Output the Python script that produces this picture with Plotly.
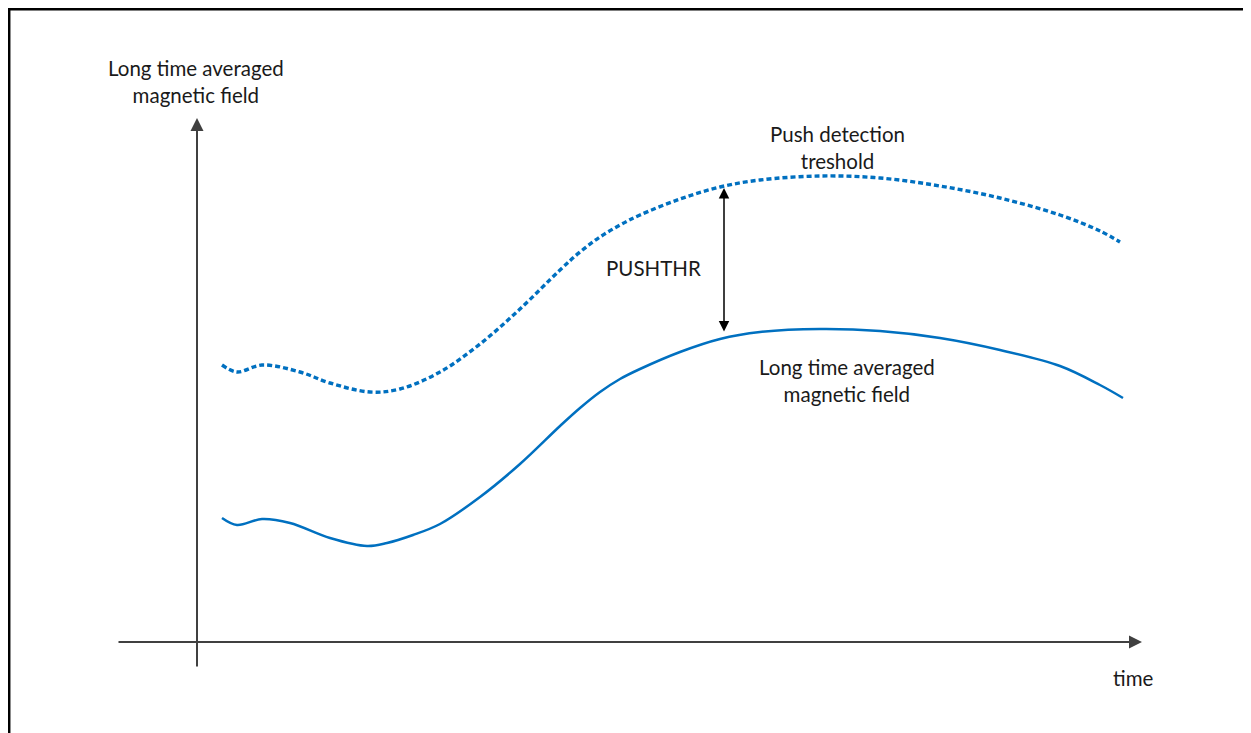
import plotly.graph_objects as go

# Schematic data (time units, field units)
time_field = [25, 40, 65, 93, 133, 170, 190, 216, 243, 283, 323, 363, 383, 403, 423,
              443, 483, 523, 563, 623, 683, 743, 803, 863, 903, 926]
field_avg = [124, 117, 123, 119, 104, 96, 99, 107, 118, 145, 178, 216, 234, 250, 263,
             273, 290, 303, 310, 313, 311, 304, 292, 276, 257, 244]

time_thr = [25, 40, 65, 103, 133, 173, 203, 243, 283, 323, 363, 383, 403, 423, 443,
            483, 523, 563, 623, 683, 743, 803, 863, 903, 923]
threshold = [277, 270, 277, 270, 259, 250, 253, 270, 298, 333, 372, 390, 405, 417, 427,
             443, 455, 462, 466, 464, 456, 444, 427, 411, 400]

pushthr_time = 527
blue = "#0070C0"
font = "Lato"
OFF = 8  # page body offset
W, H = 1251 - OFF, 733 - OFF

fig = go.Figure()
fig.add_trace(go.Scatter(x=time_field, y=field_avg, mode="lines",
                         line=dict(color=blue, width=2.5, shape="spline", smoothing=1.0),
                         hoverinfo="skip"))
fig.add_trace(go.Scatter(x=time_thr, y=threshold, mode="lines",
                         line=dict(color=blue, width=3.4, shape="spline", smoothing=1.0,
                                   dash="5px,3px"),
                         hoverinfo="skip"))

axis_col = "#404040"
annotations = [
    dict(x=0, y=524, ax=0, ay=-26, xref="x", yref="y", axref="x", ayref="y",
         text="", showarrow=True, arrowhead=2, arrowsize=1.3, arrowwidth=2,
         arrowcolor=axis_col, standoff=0, startstandoff=0),
    dict(x=945, y=0, ax=-80, ay=0, xref="x", yref="y", axref="x", ayref="y",
         text="", showarrow=True, arrowhead=2, arrowsize=1.3, arrowwidth=2,
         arrowcolor=axis_col, standoff=0, startstandoff=0),
    dict(x=pushthr_time, y=454, ax=pushthr_time, ay=309, xref="x", yref="y",
         axref="x", ayref="y", text="", showarrow=True, arrowhead=2,
         startarrowhead=2, arrowside="end+start", arrowsize=1.4, startarrowsize=1.4,
         arrowwidth=1.5, arrowcolor="black", standoff=0, startstandoff=0),
]
texts = [
    ("Long time averaged<br>magnetic field", -1, 561),
    ("Push detection<br>treshold", 640, 495),
    ("PUSHTHR", 456, 374),
    ("Long time averaged<br>magnetic field", 650, 262),
    ("time", 936, -36),
]
for t, x, y in texts:
    annotations.append(dict(x=x, y=y, xref="x", yref="y", text=t, showarrow=False,
                            font=dict(family=font, size=20.5, color="#1a1a1a"),
                            align="center", xanchor="center", yanchor="middle"))

fig.update_layout(
    width=W, height=H,
    margin=dict(l=0, r=0, t=0, b=0),
    paper_bgcolor="white", plot_bgcolor="white",
    showlegend=False,
    xaxis=dict(range=[-197 + OFF, W - 197 + OFF], visible=False, fixedrange=True),
    yaxis=dict(range=[642 - OFF - H, 642 - OFF], visible=False, fixedrange=True),
    annotations=annotations,
    shapes=[dict(type="rect", xref="paper", yref="paper",
                 x0=1.2 / W, x1=(1249.5 - OFF) / W, y0=-0.05, y1=1 - 1.2 / H,
                 line=dict(color="black", width=2.5))],
)

fig.write_html("out.html", config={"displayModeBar": False})
